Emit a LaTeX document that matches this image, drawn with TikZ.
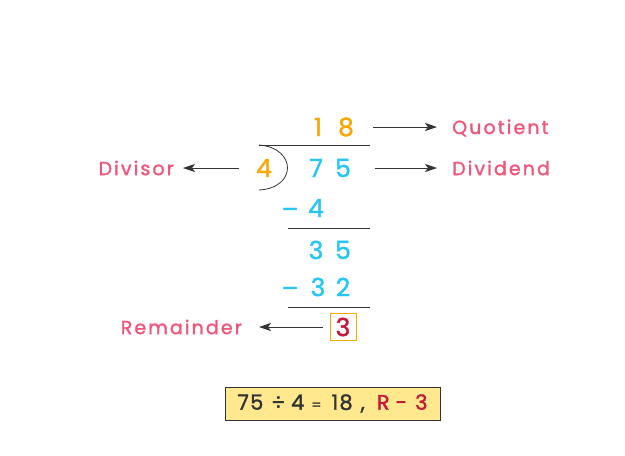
\documentclass[tikz,border=0pt]{standalone}
\usepackage{fontspec}
\setmainfont{Poppins}[LetterSpace=6, FakeBold=1.5]
\newfontfamily\labelfont{Poppins}[LetterSpace=11, FakeBold=1.5]
\usetikzlibrary{arrows.meta,positioning}
\definecolor{dforange}{RGB}{250,168,0}
\definecolor{dfblue}{RGB}{41,197,246}
\definecolor{dfpink}{RGB}{240,86,122}
\definecolor{dfcrimson}{RGB}{196,25,58}
\definecolor{dfgray}{RGB}{51,51,51}
\definecolor{dfyellow}{RGB}{255,232,142}
\tikzstyle{arrow} = [thick,-{Stealth[length=12pt,width=8pt,inset=3pt]},color=dfgray]
\tikzstyle{rule} = [thick,color=dfgray]
\tikzstyle{namelabel} = [font=\labelfont\fontsize{19}{21}\selectfont, text=dfpink, inner sep=0]
\tikzstyle{digit} = [font=\fontsize{25}{27}\selectfont, inner sep=0]

\begin{document}
\begin{tikzpicture}[x=1pt,y=-1pt]
\useasboundingbox (0,0) rectangle (625,456);

% Quotient row
\node[digit, text=dforange] (qa) at (318,127) {1};
\node[digit, text=dforange] (qb) at (346,127) {8};
\node[namelabel, anchor=west] (quot) at (452,128) {Quotient};

% Divisor and dividend
\node[digit, text=dforange] (dvs) at (264,168) {4};
\node[digit, text=dfblue] (da) at (316,168) {7};
\node[digit, text=dfblue] (db) at (343,168) {5};
\node[namelabel, anchor=west] (dvd) at (452,168) {Dividend};
\node[namelabel, anchor=east] (dvsl) at (174,168) {Divisor};

% First subtraction
\node[digit, text=dfblue] (m1) at (290,213) {--};
\node[digit, text=dfblue] (sa) at (316,208) {4};
\node[digit, text=dfblue] (ra) at (316,250) {3};
\node[digit, text=dfblue] (rb) at (343,250) {5};

% Second subtraction
\node[digit, text=dfblue] (m2) at (290,292) {--};
\node[digit, text=dfblue] (ta) at (318,287) {3};
\node[digit, text=dfblue] (tb) at (343,287) {2};

% Remainder
\node[digit, text=dfcrimson, draw=dforange, thick, minimum width=26pt, minimum height=27pt] (rem) at (343,327) {3};
\node[namelabel, anchor=east] (reml) at (242,327) {Remainder};

% Summary box
\node[draw=dfgray, fill=dfyellow, minimum width=215pt, minimum height=33pt, inner sep=0,
      font=\fontsize{21}{23}\selectfont, text=dfgray] (sum) at (332.5,403.5)
      {75\hspace{8pt}÷\hspace{6pt}4\hspace{7pt}{\fontsize{14}{16}\selectfont =}\hspace{10pt}18\hspace{8pt},\hspace{12pt}\textcolor{dfcrimson}{R\hspace{6pt}-\hspace{8pt}3}};

% Bracket and rules
\draw[rule] (259,145) -- (370,145);
\draw[rule] (259,145) .. controls (297,148) and (297,188) .. (259,190);
\draw[rule] (288,228) -- (370,228);
\draw[rule] (288,307) -- (370,307);

% Connections
\draw[arrow] ([xshift=19pt]qb.east) -- ([xshift=-15pt]quot.west |- qb.east);
\draw[arrow] ([xshift=24pt]db.east) -- ([xshift=-15pt]dvd.west |- db.east);
\draw[arrow] ([xshift=-17pt]dvs.west) -- ([xshift=9pt]dvsl.east |- dvs.west);
\draw[arrow] ([xshift=-7pt]rem.west) -- ([xshift=17pt]reml.east |- rem.west);

\end{tikzpicture}
\end{document}
